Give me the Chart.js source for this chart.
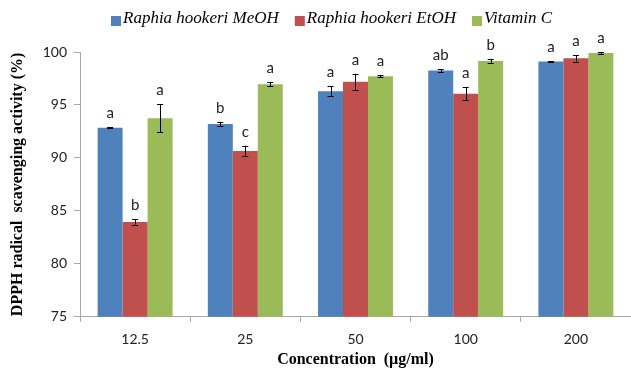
<!DOCTYPE html>
<html>
<head>
<meta charset="utf-8">
<script src="https://cdn.jsdelivr.net/npm/chart.js@4"></script>
<style>
  body { margin: 0; background: #fff; }
  #wrap { width: 631px; height: 373px; }
</style>
</head>
<body>
<div id="wrap"><canvas id="bar-chart"></canvas></div>
<script>
const concentrations = ["12.5", "25", "50", "100", "200"];
const seriesNames = ["Raphia hookeri MeOH", "Raphia hookeri EtOH", "Vitamin C"];
const seriesColors = ["#4F81BD", "#C0504D", "#9BBB59"];

const meoh = [92.85, 93.2, 96.3, 98.25, 99.1];
const etoh = [83.95, 90.65, 97.2, 96.05, 99.4];
const vitC = [93.75, 96.95, 97.7, 99.15, 99.9];

const meohErr = [0.05, 0.2, 0.5, 0.1, 0.05];
const etohErr = [0.25, 0.5, 0.75, 0.6, 0.3];
const vitCErr = [1.3, 0.2, 0.1, 0.15, 0.1];

const meohLetters = ["a", "b", "a", "ab", "a"];
const etohLetters = ["b", "c", "a", "a", "a"];
const vitCLetters = ["a", "a", "a", "b", "a"];

const yTicks = [75, 80, 85, 90, 95, 100];

const values = [meoh, etoh, vitC];
const errors = [meohErr, etohErr, vitCErr];
const letters = [meohLetters, etohLetters, vitCLetters];

// error bars + significance letters
const extrasPlugin = {
    id: "extras",
    afterDatasetsDraw(chart) {
        const ctx = chart.ctx;
        const y = chart.scales.y;
        ctx.save();
        for (let d = 0; d < values.length; d++) {
            const meta = chart.getDatasetMeta(d);
            meta.data.forEach(function (bar, i) {
                const v = values[d][i];
                const e = errors[d][i];
                const top = y.getPixelForValue(v + e);
                const bot = y.getPixelForValue(v - e);
                ctx.strokeStyle = "#000";
                ctx.lineWidth = 1;
                ctx.beginPath();
                ctx.moveTo(Math.round(bar.x) + 0.5, top);
                ctx.lineTo(Math.round(bar.x) + 0.5, bot);
                ctx.moveTo(bar.x - 3, Math.round(top) + 0.5);
                ctx.lineTo(bar.x + 3, Math.round(top) + 0.5);
                ctx.moveTo(bar.x - 3, Math.round(bot) + 0.5);
                ctx.lineTo(bar.x + 3, Math.round(bot) + 0.5);
                ctx.stroke();

                ctx.fillStyle = "#222";
                ctx.font = "15px Lato";
                ctx.textAlign = "center";
                ctx.textBaseline = "middle";
                ctx.fillText(letters[d][i], bar.x, Math.min(top, bar.y) - 14);
            });
        }
        ctx.restore();
    }
};

// legend drawn by hand so it can sit where the original has it
const legendPlugin = {
    id: "legendTop",
    afterDraw(chart) {
        const ctx = chart.ctx;
        ctx.save();
        ctx.font = "italic 17px 'Liberation Serif'";
        ctx.textBaseline = "middle";
        ctx.textAlign = "left";
        let x = 111;
        for (let i = 0; i < seriesNames.length; i++) {
            ctx.fillStyle = seriesColors[i];
            ctx.fillRect(x, 16, 10, 10);
            ctx.fillStyle = "#000";
            ctx.fillText(seriesNames[i], x + 12, 19);
            x += 12 + ctx.measureText(seriesNames[i]).width + 16;
        }
        ctx.restore();
    }
};

new Chart(document.getElementById("bar-chart"), {
    type: "bar",
    data: {
        labels: concentrations,
        datasets: seriesNames.map(function (name, i) {
            return {
                label: name,
                data: values[i],
                backgroundColor: seriesColors[i],
                borderWidth: 0,
                categoryPercentage: 0.68,
                barPercentage: 1.0
            };
        })
    },
    options: {
        responsive: true,
        maintainAspectRatio: false,
        animation: false,
        layout: { padding: { top: 52, right: 0, left: 4, bottom: 5 } },
        plugins: {
            legend: { display: false },
            tooltip: { enabled: false }
        },
        scales: {
            x: {
                grid: { display: true, drawOnChartArea: false, drawTicks: true, tickLength: 5, color: "#a6a6a6", offset: true },
                border: { display: true, color: "#a6a6a6", width: 1 },
                ticks: { color: "#222", font: { family: "Lato", size: 14, lineHeight: 0.8 }, padding: 12 },
                title: {
                    display: true,
                    text: "Concentration  (µg/ml)",
                    color: "#000",
                    font: { family: "Liberation Serif", size: 16, weight: "bold", lineHeight: 1 },
                    padding: { top: -5, bottom: 0 }
                }
            },
            y: {
                min: 75,
                max: 100,
                afterBuildTicks(axis) {
                    axis.ticks = yTicks.map(function (v) { return { value: v }; });
                },
                afterFit(axis) {
                    axis.width = 76;
                },
                grid: { display: true, drawOnChartArea: false, drawTicks: true, tickLength: 6, color: "#a6a6a6" },
                border: { display: true, color: "#a6a6a6", width: 1 },
                ticks: { color: "#222", font: { family: "Lato", size: 14 }, padding: 7 },
                title: {
                    display: true,
                    text: "DPPH radical  scavenging activity (%)",
                    color: "#000",
                    font: { family: "Liberation Serif", size: 16, weight: "bold" },
                    padding: { top: 4, bottom: 0 }
                }
            }
        }
    },
    plugins: [extrasPlugin, legendPlugin]
});
</script>
</body>
</html>
